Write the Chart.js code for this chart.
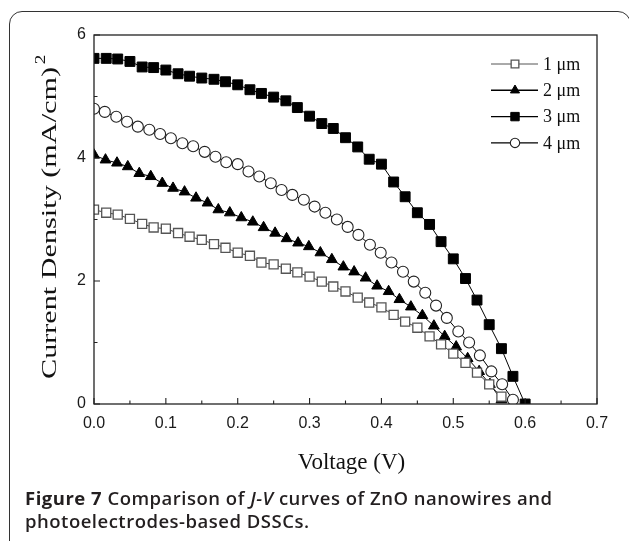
<!DOCTYPE html>
<html>
<head>
<meta charset="utf-8">
<script src="https://cdn.jsdelivr.net/npm/chart.js@4.4.1/dist/chart.umd.min.js"></script>
<style>
  html, body { margin: 0; padding: 0; background: #fff; }
  #wrap { position: relative; width: 629px; height: 541px; overflow: hidden; }
  #frame { position: absolute; left: 9px; top: 11px; width: 622px; height: 600px;
           border: 1.5px solid #333; border-radius: 13px; box-sizing: border-box; }
  #chart { position: absolute; left: 0; top: 0; }
  #caption { position: absolute; left: 25px; top: 486px; width: 600px;
             font-family: 'Open Sans', sans-serif; font-size: 18.5px; font-weight: 600;
             letter-spacing: 0.5px; line-height: 23px; color: #231f20; }
  #caption b { font-weight: 700; }
</style>
</head>
<body>
<div id="wrap">
  <div id="frame"></div>
  <canvas id="chart" width="629" height="541"></canvas>
  <div id="caption"><b>Figure 7</b> Comparison of <i>J-V</i> curves of ZnO nanowires and photoelectrodes-based DSSCs.</div>
</div>
<script>
const seriesNames = ['1 μm', '2 μm', '3 μm', '4 μm'];

// voltage (V) of each sample, per curve
const volt1 = [0, 0.017, 0.033, 0.050, 0.067, 0.083, 0.100, 0.117, 0.133, 0.150, 0.167, 0.183,
  0.200, 0.217, 0.233, 0.250, 0.267, 0.283, 0.300, 0.317, 0.333, 0.350, 0.367, 0.383, 0.400,
  0.417, 0.433, 0.450, 0.467, 0.483, 0.500, 0.517, 0.533, 0.550, 0.567];
const volt2 = [0, 0.016, 0.032, 0.047, 0.063, 0.079, 0.095, 0.110, 0.126, 0.142, 0.158, 0.173,
  0.189, 0.205, 0.221, 0.236, 0.252, 0.268, 0.284, 0.299, 0.315, 0.331, 0.347, 0.362, 0.378,
  0.394, 0.410, 0.425, 0.441, 0.457, 0.473, 0.488, 0.504, 0.520, 0.536, 0.551, 0.567];
const volt3 = [0, 0.017, 0.033, 0.050, 0.067, 0.083, 0.100, 0.117, 0.133, 0.150, 0.167, 0.183,
  0.200, 0.217, 0.233, 0.250, 0.267, 0.283, 0.300, 0.317, 0.333, 0.350, 0.367, 0.383, 0.400,
  0.417, 0.433, 0.450, 0.467, 0.483, 0.500, 0.517, 0.533, 0.550, 0.567, 0.583, 0.600];
const volt4 = [0, 0.015, 0.031, 0.046, 0.061, 0.077, 0.092, 0.107, 0.123, 0.138, 0.154, 0.169,
  0.184, 0.200, 0.215, 0.230, 0.246, 0.261, 0.276, 0.292, 0.307, 0.322, 0.338, 0.353, 0.368,
  0.384, 0.399, 0.414, 0.430, 0.445, 0.461, 0.476, 0.491, 0.507, 0.522, 0.537, 0.553, 0.568, 0.583];

// current density (mA/cm2)
const curr1 = [3.16, 3.11, 3.08, 3.01, 2.93, 2.87, 2.85, 2.78, 2.72, 2.67, 2.60, 2.54, 2.46, 2.41,
  2.30, 2.27, 2.20, 2.14, 2.07, 1.99, 1.91, 1.83, 1.73, 1.65, 1.57, 1.45, 1.34, 1.24, 1.10, 0.97,
  0.82, 0.67, 0.51, 0.32, 0.12];
const curr2 = [4.05, 3.97, 3.92, 3.86, 3.75, 3.70, 3.59, 3.51, 3.45, 3.35, 3.27, 3.16, 3.11, 3.03,
  2.96, 2.87, 2.78, 2.69, 2.62, 2.56, 2.46, 2.35, 2.23, 2.15, 2.05, 1.92, 1.83, 1.70, 1.58, 1.44,
  1.27, 1.10, 0.93, 0.74, 0.53, 0.32, 0.07];
const curr3 = [5.62, 5.62, 5.61, 5.57, 5.48, 5.47, 5.43, 5.37, 5.33, 5.30, 5.28, 5.24, 5.19, 5.11,
  5.05, 4.99, 4.93, 4.82, 4.68, 4.56, 4.48, 4.33, 4.18, 3.98, 3.90, 3.61, 3.37, 3.11, 2.92, 2.64,
  2.36, 2.04, 1.69, 1.29, 0.90, 0.45, 0.00];
const curr4 = [4.80, 4.75, 4.67, 4.59, 4.51, 4.46, 4.39, 4.32, 4.24, 4.19, 4.10, 4.02, 3.93, 3.90,
  3.78, 3.70, 3.59, 3.48, 3.40, 3.32, 3.21, 3.11, 3.00, 2.88, 2.75, 2.59, 2.46, 2.30, 2.15, 1.99,
  1.81, 1.60, 1.40, 1.18, 1.00, 0.79, 0.53, 0.32, 0.07];

const xTicks = [0, 0.1, 0.2, 0.3, 0.4, 0.5, 0.6, 0.7];
const yTicks = [0, 2, 4, 6];

const pts = (xs, ys) => xs.map((v, i) => ({ x: v, y: ys[i] }));

const markers = [
  { pointStyle: 'rect', pointRadius: 6.4, pointBackgroundColor: '#fff', pointBorderColor: '#555', pointBorderWidth: 1.3 },
  { pointStyle: 'triangle', pointRadius: 6.2, pointBackgroundColor: '#000', pointBorderColor: '#000', pointBorderWidth: 1 },
  { pointStyle: 'rect', pointRadius: 7, pointBackgroundColor: '#000', pointBorderColor: '#000', pointBorderWidth: 1 },
  { pointStyle: 'circle', pointRadius: 5.5, pointBackgroundColor: '#fff', pointBorderColor: '#222', pointBorderWidth: 1.1 }
];

const sets = [pts(volt1, curr1), pts(volt2, curr2), pts(volt3, curr3), pts(volt4, curr4)];

const decor = {
  id: 'decor',
  afterDatasetsDraw(chart) {
    const { ctx, chartArea: a, scales: { x, y } } = chart;
    ctx.save();
    ctx.strokeStyle = '#222';
    ctx.lineWidth = 1.3;
    ctx.strokeRect(a.left, a.top, a.right - a.left, a.bottom - a.top);

    // inward tick marks
    ctx.lineWidth = 1.1;
    ctx.beginPath();
    xTicks.forEach((v, i) => {
      const px = x.getPixelForValue(v);
      ctx.moveTo(px, a.bottom); ctx.lineTo(px, a.bottom - 6);
      if (i < xTicks.length - 1) {
        const mx = x.getPixelForValue((v + xTicks[i + 1]) / 2);
        ctx.moveTo(mx, a.bottom); ctx.lineTo(mx, a.bottom - 3.5);
      }
    });
    yTicks.forEach((v, i) => {
      const py = y.getPixelForValue(v);
      ctx.moveTo(a.left, py); ctx.lineTo(a.left + 6, py);
      if (i < yTicks.length - 1) {
        const my = y.getPixelForValue((v + yTicks[i + 1]) / 2);
        ctx.moveTo(a.left, my); ctx.lineTo(a.left + 3.5, my);
      }
    });
    ctx.stroke();

    // legend, line through marker
    ctx.font = '18px "Liberation Serif"';
    ctx.textBaseline = 'middle';
    seriesNames.forEach((name, i) => {
      const ly = 64 + i * 26.3;
      ctx.strokeStyle = i === 0 ? '#555' : '#000';
      ctx.lineWidth = i === 0 ? 1 : 1.4;
      ctx.beginPath(); ctx.moveTo(491, ly); ctx.lineTo(538, ly); ctx.stroke();
      const m = markers[i];
      ctx.fillStyle = m.pointBackgroundColor;
      ctx.strokeStyle = m.pointBorderColor;
      ctx.lineWidth = m.pointBorderWidth;
      Chart.helpers.drawPoint(ctx, { pointStyle: m.pointStyle, radius: m.pointRadius * 0.85,
        rotation: 0, borderWidth: m.pointBorderWidth }, 515, ly);
      ctx.fillStyle = '#111';
      ctx.fillText(name, 543, ly + 1);
    });

    // axis titles
    ctx.fillStyle = '#111';
    ctx.font = '23px "Liberation Serif"';
    ctx.textAlign = 'center';
    ctx.fillText('Voltage (V)', (a.left + a.right) / 2 + 6, 463);

    const main = 'Current Density (mA/cm)';
    ctx.font = '22px "Liberation Serif"';
    ctx.translate(56, 379);
    ctx.rotate(-Math.PI / 2);
    ctx.textAlign = 'left';
    ctx.textBaseline = 'alphabetic';
    const w = ctx.measureText(main).width;
    const sx = 312 / w;
    ctx.scale(sx, 1);
    ctx.fillText(main, 0, 0);
    ctx.font = '14px "Liberation Serif"';
    ctx.fillText('2', w + 2, -11);
    ctx.restore();
  }
};

new Chart(document.getElementById('chart'), {
  type: 'line',
  data: {
    datasets: sets.map((d, i) => ({
      label: seriesNames[i],
      data: d,
      borderColor: i === 0 ? '#444' : '#000',
      borderWidth: 1,
      fill: false,
      tension: 0,
      ...markers[i]
    }))
  },
  options: {
    responsive: false,
    animation: false,
    events: [],
    layout: { padding: { left: 0, right: 32, top: 35, bottom: 77 } },
    plugins: { legend: { display: false }, tooltip: { enabled: false } },
    scales: {
      x: {
        type: 'linear', min: 0, max: 0.7,
        ticks: { stepSize: 0.1, autoSkip: false, maxRotation: 0, padding: 10,
                 callback: v => v.toFixed(1), color: '#1a1a1a',
                 font: { family: 'Liberation Sans', size: 16 } },
        grid: { display: false, drawTicks: false },
        border: { display: false },
        afterFit: s => { s.height = 60; }
      },
      y: {
        min: 0, max: 6,
        ticks: { stepSize: 2, padding: 8, color: '#1a1a1a',
                 callback: v => String(v),
                 font: { family: 'Liberation Sans', size: 16 } },
        grid: { display: false, drawTicks: false },
        border: { display: false },
        afterFit: s => { s.width = 94; }
      }
    }
  },
  plugins: [decor]
});
</script>
</body>
</html>
